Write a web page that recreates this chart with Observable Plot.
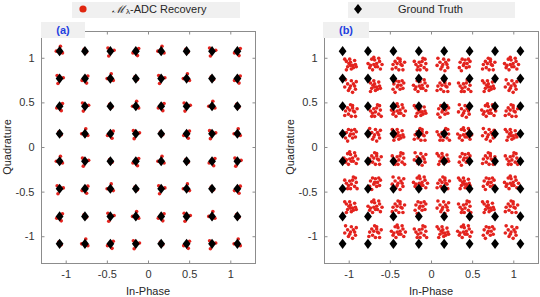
<!DOCTYPE html>
<html><head><meta charset="utf-8">
<script src="https://cdn.jsdelivr.net/npm/d3@7"></script>
<script src="https://cdn.jsdelivr.net/npm/@observablehq/plot@0.6"></script>
<style>
body{margin:0;background:#fff;}
#wrap{position:relative;width:540px;height:297px;font-family:"Liberation Sans",Arial,sans-serif;color:#262626;overflow:hidden;background:#fff}
.pl{position:absolute;top:0}
.box{position:absolute;background:#f0f0f0;}
.t{position:absolute;white-space:nowrap;font-size:11px;line-height:1}
.c{transform:translate(-50%,-50%)}
.rot{transform:translate(-50%,-50%) rotate(-90deg)}
.pan{color:#1f3fe0;font-weight:bold;font-size:11px}
</style></head><body>
<div id="wrap"></div>
<script>
// 64-QAM ground-truth levels (I and Q)
const levels = [-1.08, -0.772, -0.463, -0.154, 0.154, 0.463, 0.772, 1.08];
// panel (b): centres of the recovered clusters, per column (I) and per row (Q, top to bottom)
const clusterX = [-0.984, -0.691, -0.407, -0.139, 0.138, 0.398, 0.69, 0.967];
const clusterY = [0.93, 0.688, 0.409, 0.142, -0.129, -0.401, -0.669, -0.948];
const ticks = [-1, -0.5, 0, 0.5, 1];
// panel (b) scatter shapes of the clusters (offsets in I/Q units)
const spreadB = [
  [[-0.05,0.035],[-0.02,0.01],[0.0,0.025],[0.025,-0.01],[0.06,0.0],[-0.035,-0.025],[0.01,-0.05],[0.05,0.045],[-0.07,0.06],[0.035,-0.035],[0.0,-0.01],[-0.01,0.06],[0.07,-0.025],[-0.05,-0.06]],
  [[0.0,0.07],[-0.06,0.0],[-0.025,-0.035],[0.025,0.035],[0.05,-0.01],[0.08,0.025],[-0.035,0.035],[0.01,-0.06],[0.035,0.0],[-0.07,-0.05],[0.06,-0.06],[-0.01,0.01],[0.025,0.06]],
  [[-0.08,0.01],[-0.05,-0.01],[-0.01,0.0],[0.025,0.01],[0.06,0.035],[0.035,-0.025],[0.0,0.05],[-0.035,0.06],[0.07,-0.05],[-0.025,-0.06],[0.01,-0.025],[0.05,0.07],[-0.06,-0.035],[0.09,0.0],[-0.01,0.08]],
  [[0.0,0.0],[0.035,0.025],[-0.035,0.025],[0.01,0.06],[-0.06,0.07],[0.06,-0.035],[-0.025,-0.05],[0.025,-0.07],[0.07,0.05],[-0.07,-0.01],[0.05,0.0],[-0.01,-0.025]],
  [[0.06,0.06],[0.025,0.035],[-0.01,0.025],[-0.05,0.0],[-0.025,-0.025],[0.01,-0.01],[0.05,-0.035],[0.07,0.01],[-0.07,0.035],[0.0,-0.06],[0.035,0.07],[-0.035,-0.06],[0.08,-0.06]],
  [[-0.025,0.06],[0.01,0.05],[0.035,0.01],[-0.05,0.025],[-0.01,-0.01],[0.025,-0.035],[0.06,-0.025],[-0.06,-0.035],[0.0,0.01],[0.05,0.06],[-0.035,-0.07],[0.07,0.035]]
];
const shapeB = [
  0,2,1,4,3,5,1,2,
  3,0,5,2,1,4,0,3,
  1,4,2,0,5,3,2,1,
  5,3,0,1,4,2,3,0,
  2,1,4,3,0,5,1,4,
  4,5,3,2,1,0,5,2,
  0,2,1,5,3,4,0,1,
  3,1,2,4,0,2,5,3
];
// panel (a) small residuals around each symbol
const spreadA = [
  [[0.0,0.0],[0.035,0.03],[-0.035,-0.02],[0.02,-0.05]],
  [[0.0,0.01],[-0.04,0.0],[0.01,0.055],[0.035,-0.02]],
  [[0.0,0.0],[0.045,0.01],[-0.02,-0.055],[-0.03,0.035]],
  [[0.01,0.0],[-0.01,0.02],[0.02,-0.01],[0.0,-0.02]]
];
const shapeA = [
  1,3,2,0,1,3,2,0,
  2,0,1,3,2,1,3,0,
  0,2,3,1,0,2,1,3,
  3,1,0,2,3,0,2,1,
  1,2,3,0,1,3,0,2,
  2,0,1,3,2,1,3,0,
  0,3,2,1,0,2,1,3,
  3,1,0,2,3,0,2,1
];

const truth = [];
const recA = [];
const recB = [];
levels.slice().reverse().forEach((q, r) => {
  levels.forEach((i, c) => {
    truth.push({I: i, Q: q});
    spreadA[shapeA[r*8+c]].forEach(([dx,dy]) => recA.push({I: i+dx, Q: q+dy}));
    spreadB[shapeB[r*8+c]].forEach(([dx,dy]) => recB.push({I: clusterX[c]+dx, Q: clusterY[r]+dy}));
  });
});

const diamond = {
  draw(ctx, size) {
    const s = Math.sqrt(size / Math.PI);
    const h = s * 1.1, w = s * 0.85;
    ctx.moveTo(0, -h); ctx.lineTo(w, 0); ctx.lineTo(0, h); ctx.lineTo(-w, 0); ctx.closePath();
  }
};
// short inward tick marks
const tk = (dx, dy) => ({draw(ctx) { ctx.moveTo(0, 0); ctx.lineTo(dx, dy); }});
const RED = "#e3231e", GRID = "#8c8c8c";

function panel(red, ml, mr) {
  const fmt = d => String(d);
  const tOpt = {r: 3, fill: "none", stroke: GRID, strokeWidth: 1};
  return Plot.plot({
    width: 270, height: 297, marginLeft: ml, marginRight: mr, marginTop: 31, marginBottom: 34,
    x: {domain: [-1.3, 1.3], ticks: ticks, tickSize: 0, tickPadding: 7, tickFormat: fmt, label: null},
    y: {domain: [-1.3, 1.3], ticks: ticks, tickSize: 0, tickPadding: 7, tickFormat: fmt, label: null},
    style: {fontFamily: "Liberation Sans, Arial, sans-serif", fontSize: "11px", color: "#333", background: "transparent"},
    marks: [
      Plot.dot(red, {x: "I", y: "Q", r: 1.8, fill: RED, stroke: "none"}),
      Plot.dot(truth, {x: "I", y: "Q", r: 4.6, symbol: diamond, fill: "black", stroke: "none"}),
      Plot.frame({stroke: GRID}),
      Plot.dot(ticks, {x: d => d, frameAnchor: "bottom", symbol: tk(0, -3), ...tOpt}),
      Plot.dot(ticks, {x: d => d, frameAnchor: "top", symbol: tk(0, 3), ...tOpt}),
      Plot.dot(ticks, {y: d => d, frameAnchor: "left", symbol: tk(3, 0), ...tOpt}),
      Plot.dot(ticks, {y: d => d, frameAnchor: "right", symbol: tk(-3, 0), ...tOpt})
    ]
  });
}

const wrap = document.getElementById("wrap");
const pa = panel(recA, 41, 15); pa.classList.add("pl"); pa.style.left = "0px";
const pb = panel(recB, 54, 2); pb.classList.add("pl"); pb.style.left = "270px";
wrap.appendChild(pa); wrap.appendChild(pb);

function add(html, cls, style) {
  const d = document.createElement("div");
  d.className = cls; d.innerHTML = html; Object.assign(d.style, style); wrap.appendChild(d); return d;
}
// panel label boxes
add("", "box", {left: "41px", top: "22px", width: "44px", height: "16px"});
add("(a)", "t pan c", {left: "63px", top: "30px"});
add("", "box", {left: "323px", top: "22px", width: "46px", height: "16px"});
add("(b)", "t pan c", {left: "346px", top: "30px"});
// axis titles
add("Quadrature", "t rot", {left: "7px", top: "147px"});
add("Quadrature", "t rot", {left: "290px", top: "147px"});
add("In-Phase", "t c", {left: "148px", top: "291px"});
add("In-Phase", "t c", {left: "431px", top: "291px"});
// legends
add("", "box", {left: "72px", top: "2px", width: "168px", height: "16px"});
add('<svg width="10" height="10"><circle cx="5" cy="5" r="3.6" fill="#e0260f"/></svg>', "t c", {left: "83px", top: "10px"});
add('<span style="font-family:\'DejaVu Serif\',serif;font-style:italic">ℳ</span><sub style="font-size:8px;vertical-align:-1px;margin-left:1px">λ</sub>-ADC Recovery', "t", {left: "112px", top: "4px"});
add("", "box", {left: "348px", top: "2px", width: "167px", height: "16px"});
add('<svg width="10" height="12"><path d="M5,1L9,6L5,11L1,6Z" fill="black"/></svg>', "t c", {left: "358px", top: "10px"});
add("Ground Truth", "t", {left: "398px", top: "4px"});
</script>
</body></html>
